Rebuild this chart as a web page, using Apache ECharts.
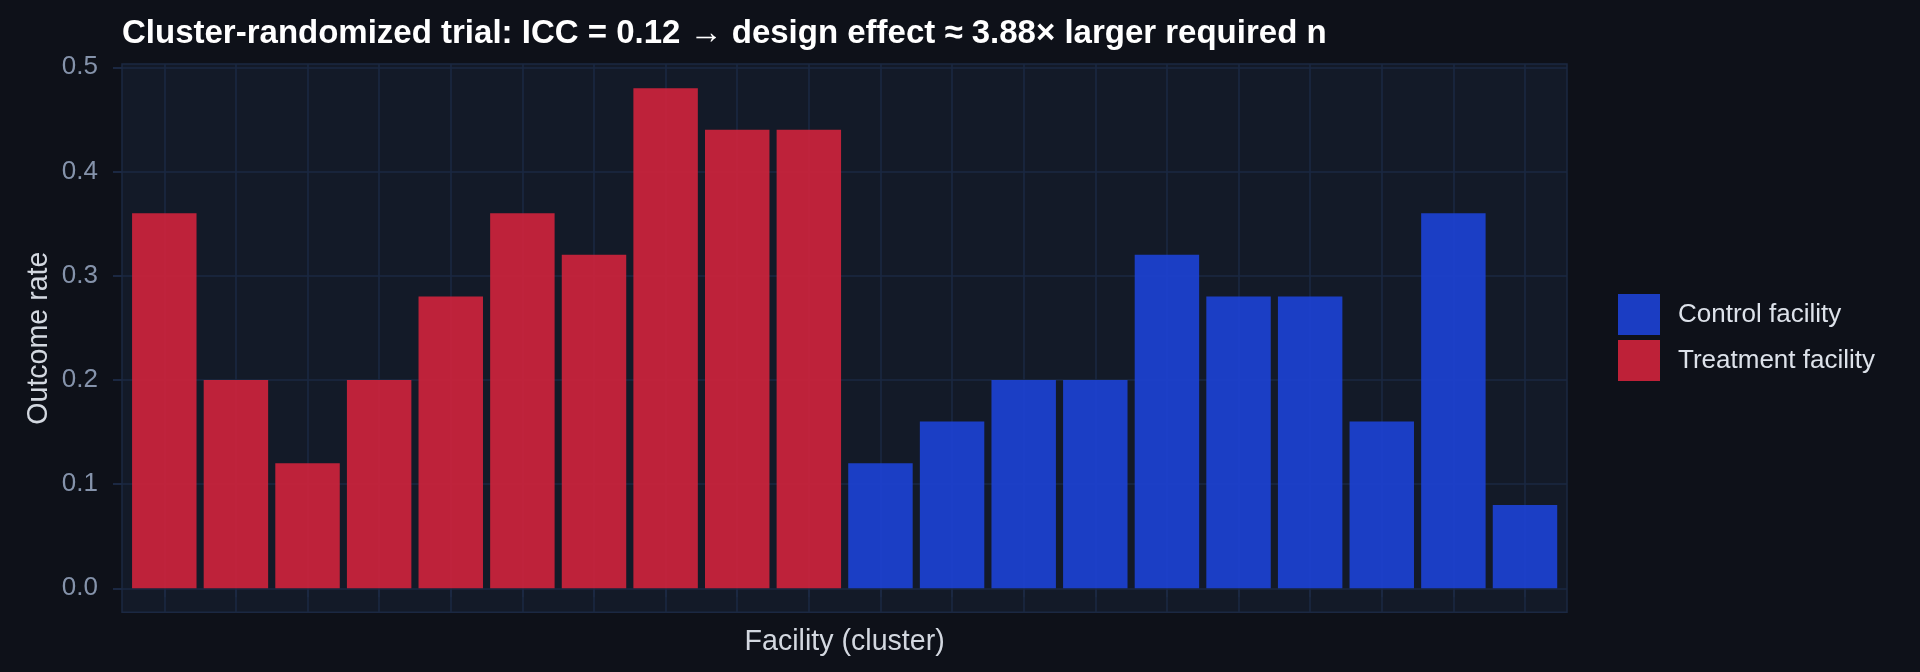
<!DOCTYPE html>
<html>
<head>
<meta charset="utf-8">
<title>Cluster-randomized trial</title>
<script src="https://cdn.jsdelivr.net/npm/echarts@6/dist/echarts.min.js"></script>
<style>
  html, body { margin: 0; padding: 0; background: #0e1119; }
  #chart { width: 1920px; height: 672px; }
</style>
</head>
<body>
<div id="chart"></div>
<script>
// facilities: 10 treatment clusters, then 10 control clusters
var facilityIds = ['T01', 'T02', 'T03', 'T04', 'T05', 'T06', 'T07', 'T08', 'T09', 'T10',
                   'C01', 'C02', 'C03', 'C04', 'C05', 'C06', 'C07', 'C08', 'C09', 'C10'];
var treatmentRates = [0.36, 0.20, 0.12, 0.20, 0.28, 0.36, 0.32, 0.48, 0.44, 0.44];
var controlRates = [0.12, 0.16, 0.20, 0.20, 0.32, 0.28, 0.28, 0.16, 0.36, 0.08];
var yTickLabels = ['0.0', '0.1', '0.2', '0.3', '0.4', '0.5'];

var FONT = '"Liberation Sans", Arial, sans-serif';
var GRID_COLOR = '#1b2842';

// panel geometry (px)
var panel = { left: 122, top: 64, right: 1567, bottom: 612.3 };
var yZeroPx = 588.3, yTopPx = 67.3;          // pixel rows of 0.0 and 0.5
var xFirstPx = 164.3, xLastPx = 1525;        // centres of first / last facility
var pxPerUnit = (yZeroPx - yTopPx) / 0.5;
var barYMin = -(panel.bottom - yZeroPx) / pxPerUnit;
var barYMax = 0.5 + (yTopPx - panel.top) / pxPerUnit;

var treatmentData = treatmentRates.concat(controlRates.map(function () { return null; }));
var controlData = treatmentRates.map(function () { return null; }).concat(controlRates);

var chart = echarts.init(document.getElementById('chart'));

var option = {
    backgroundColor: '#0e1119',
    animation: false,
    textStyle: { fontFamily: FONT },
    title: {
        text: 'Cluster-randomized trial: ICC = 0.12 \u2192 design effect \u2248 3.88\u00d7 larger required n',
        left: panel.left,
        top: 17,
        padding: 0,
        textStyle: { color: '#ffffff', fontSize: 33, fontWeight: 'bold', fontFamily: FONT }
    },
    legend: {
        orient: 'vertical',
        left: 1618,
        top: 294,
        padding: 0,
        itemWidth: 42,
        itemHeight: 41,
        itemGap: 5,
        icon: 'rect',
        data: ['Control facility', 'Treatment facility'],
        textStyle: { color: '#dde2ea', fontSize: 26, fontFamily: FONT, padding: [0, 0, 0, 13] }
    },
    grid: [
        {   // panel background
            left: panel.left, top: panel.top,
            width: panel.right - panel.left, height: panel.bottom - panel.top,
            show: true, backgroundColor: '#131a28',
            borderColor: GRID_COLOR, borderWidth: 1.5
        },
        {   // horizontal grid + y labels
            left: panel.left, top: yTopPx,
            width: panel.right - panel.left, height: yZeroPx - yTopPx
        },
        {   // bars + vertical grid
            left: xFirstPx, top: panel.top,
            width: xLastPx - xFirstPx, height: panel.bottom - panel.top
        }
    ],
    xAxis: [
        { type: 'value', gridIndex: 0, show: false },
        { type: 'value', gridIndex: 1, show: false },
        {
            type: 'category',
            gridIndex: 2,
            data: facilityIds,
            boundaryGap: false,
            name: 'Facility (cluster)',
            nameLocation: 'middle',
            nameGap: 15,
            nameTextStyle: { color: '#d3d8e0', fontSize: 28.6, fontFamily: FONT },
            axisLine: { show: false },
            axisTick: { show: true, length: 9, lineStyle: { color: GRID_COLOR, width: 2 } },
            axisLabel: { show: false },
            splitLine: { show: true, lineStyle: { color: GRID_COLOR, width: 1.6 } }
        }
    ],
    yAxis: [
        { type: 'value', gridIndex: 0, show: false },
        {
            type: 'value',
            gridIndex: 1,
            min: 0,
            max: 0.5,
            interval: 0.1,
            axisLine: { show: false },
            axisTick: { show: true, length: 9, lineStyle: { color: GRID_COLOR, width: 2 } },
            axisLabel: {
                color: '#8593ab', fontSize: 26, fontFamily: FONT, margin: 24,
                formatter: function (v) { return yTickLabels[Math.round(v * 10)]; }
            },
            splitLine: { show: true, lineStyle: { color: GRID_COLOR, width: 1.6 } }
        },
        {
            type: 'value',
            gridIndex: 2,
            min: barYMin,
            max: barYMax,
            name: 'Outcome rate',
            nameLocation: 'middle',
            nameRotate: 90,
            nameGap: 111,
            nameTextStyle: { color: '#d3d8e0', fontSize: 28.6, fontFamily: FONT },
            axisLine: { show: false },
            axisTick: { show: false },
            axisLabel: { show: false },
            splitLine: { show: false }
        }
    ],
    series: [
        {
            name: 'Treatment facility',
            type: 'bar',
            xAxisIndex: 2,
            yAxisIndex: 2,
            data: treatmentData,
            barWidth: '90%',
            barGap: '-100%',
            clip: false,
            itemStyle: { color: '#d1233c', opacity: 0.9 }
        },
        {
            name: 'Control facility',
            type: 'bar',
            xAxisIndex: 2,
            yAxisIndex: 2,
            data: controlData,
            barWidth: '90%',
            barGap: '-100%',
            clip: false,
            itemStyle: { color: '#1d43d6', opacity: 0.9 }
        }
    ]
};

chart.setOption(option);
window.onresize = chart.resize;
</script>
</body>
</html>
